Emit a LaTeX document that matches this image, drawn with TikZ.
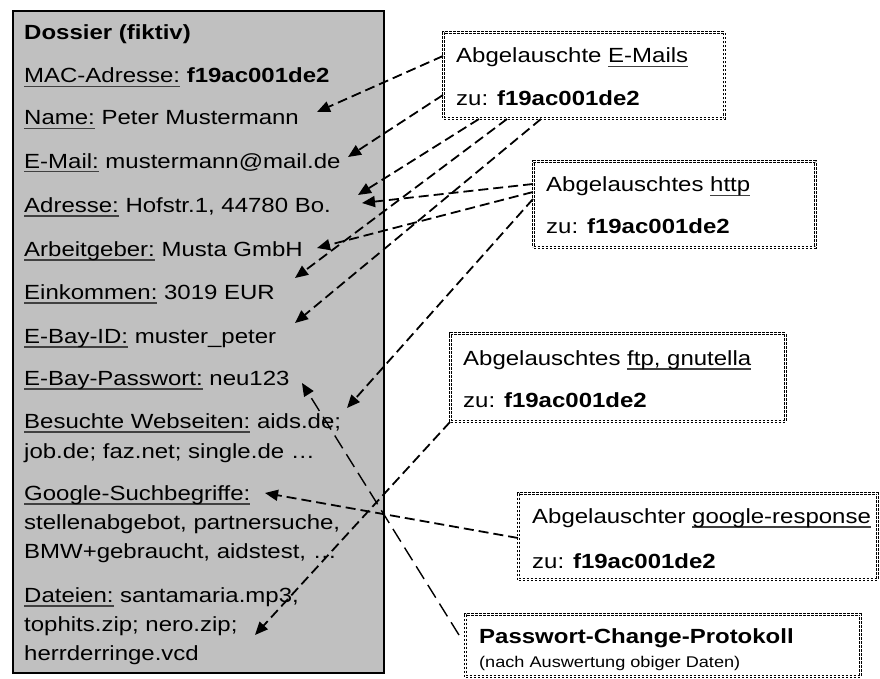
\documentclass[tikz,border=0pt]{standalone}
\usepackage{fontspec}
\setmainfont{Liberation Sans}[FakeStretch=1.17]
\usepackage{tikz}
\usetikzlibrary{arrows.meta}

\newsavebox{\ustrbox}
\newcommand{\unterstr}[1]{\sbox{\ustrbox}{#1}%
  \rlap{\textcolor{black!75}{\rule[-4.5pt]{\wd\ustrbox}{1.2pt}}}\usebox{\ustrbox}}

\begin{document}
\begin{tikzpicture}[x=1pt, y=-1pt,
      zeile/.style={anchor=base west, inner sep=0pt, font=\fontsize{20.5}{24}\selectfont},
      klein/.style={anchor=base west, inner sep=0pt, font=\fontsize{15.5}{18}\selectfont},
      akte/.style={draw, line width=2.4pt, fill={rgb,255:red,192;green,192;blue,192},
        anchor=north west, inner sep=0pt},
      lausch/.style={draw, line width=1pt, double, double distance=1.8pt,
        dash pattern=on 2.4pt off 1.6pt, anchor=north west, inner sep=0pt},
      pfeil/.style={line width=1.8pt, dash pattern=on 10pt off 5pt,
        -{Triangle[length=13pt,width=11pt]}},
      >=Stealth]
    \useasboundingbox (0,0) rectangle (880,679);

    % dossier
    \node[akte, minimum width=371pt, minimum height=662pt] (dossier) at (12,10) {};
    \node[zeile] (titel) at (24,40) {\textbf{Dossier (fiktiv)}};
    \node[zeile] (mac) at (24,83) {\unterstr{MAC-Adresse:} \textbf{f19ac001de2}};
    \node[zeile] (name) at (24,125) {\unterstr{Name:} Peter Mustermann};
    \node[zeile] (mail) at (24,168) {\unterstr{E-Mail:} mustermann@mail.de};
    \node[zeile] (adresse) at (24,212) {\unterstr{Adresse:} Hofstr.1, 44780 Bo.};
    \node[zeile] (arbeit) at (24,256) {\unterstr{Arbeitgeber:} Musta GmbH};
    \node[zeile] (einkommen) at (24,299) {\unterstr{Einkommen:} 3019 EUR};
    \node[zeile] (ebayid) at (24,343) {\unterstr{E-Bay-ID:} muster\_peter};
    \node[zeile] (ebaypw) at (24,385) {\unterstr{E-Bay-Passwort:} neu123};
    \node[zeile] (web) at (24,428) {\unterstr{Besuchte Webseiten:} aids.de;};
    \node[zeile] (web2) at (24,458) {job.de; faz.net; single.de …};
    \node[zeile] (google) at (24,500) {\unterstr{Google-Suchbegriffe:}};
    \node[zeile] (google2) at (24,529) {stellenabgebot, partnersuche,};
    \node[zeile] (google3) at (24,558) {BMW+gebraucht, aidstest, …};
    \node[zeile] (dateien) at (24,602) {\unterstr{Dateien:} santamaria.mp3,};
    \node[zeile] (dateien2) at (24,631) {tophits.zip; nero.zip;};
    \node[zeile] (dateien3) at (24,660) {herrderringe.vcd};

    % abgelauschte quellen
    \node[lausch, minimum width=281pt, minimum height=86pt] (emails) at (443,32) {};
    \node[zeile] (emails1) at (456,63) {Abgelauschte \unterstr{E-Mails}};
    \node[zeile] (emails2) at (456,106) {zu: \textbf{f19ac001de2}};

    \node[lausch, minimum width=282pt, minimum height=86pt] (http) at (533,161) {};
    \node[zeile] (http1) at (546,192) {Abgelauschtes \unterstr{http}};
    \node[zeile] (http2) at (546,233) {zu: \textbf{f19ac001de2}};

    \node[lausch, minimum width=335pt, minimum height=88pt] (ftp) at (450,333) {};
    \node[zeile] (ftp1) at (463,365) {Abgelauschtes \unterstr{ftp, gnutella}};
    \node[zeile] (ftp2) at (463,407) {zu: \textbf{f19ac001de2}};

    \node[lausch, minimum width=359pt, minimum height=86pt] (resp) at (518,493) {};
    \node[zeile] (resp1) at (532,523) {Abgelauschter \unterstr{google-response}};
    \node[zeile] (resp2) at (532,568) {zu: \textbf{f19ac001de2}};

    \node[lausch, minimum width=395pt, minimum height=62pt] (pwprot) at (465,614) {};
    \node[zeile] (pwprot1) at (479,643) {\textbf{Passwort-Change-Protokoll}};
    \node[klein] (pwprot2) at (479,667) {(nach Auswertung obiger Daten)};

    % pfeilspitzen
    \coordinate (zname) at (317,112);
    \coordinate (zmail) at (348,157);
    \coordinate (zadr1) at (358,195);
    \coordinate (zadr2) at (362,203);
    \coordinate (zarbeit) at (317,248);
    \coordinate (zeink) at (295,278);
    \coordinate (zebay) at (295,323);
    \coordinate (zweb) at (347,408);
    \coordinate (zpw) at (302,383);
    \coordinate (zgoogle) at (265,493);
    \coordinate (zdatei) at (255,635);

    \draw[pfeil] ([yshift=-24pt]emails.north west) -- (zname);
    \draw[pfeil] ([yshift=-63pt]emails.north west) -- (zmail);
    \draw[pfeil] ([xshift=36pt]emails.south west) -- (zadr1);
    \draw[pfeil] ([xshift=64pt]emails.south west) -- (zeink);
    \draw[pfeil] ([xshift=98pt]emails.south west) -- (zebay);
    \draw[pfeil] ([yshift=-23pt]http.north west) -- (zadr2);
    \draw[pfeil] ([yshift=-31pt]http.north west) -- (zarbeit);
    \draw[pfeil] ([yshift=-38pt]http.north west) -- (zweb);
    \draw[pfeil] (ftp.south west) -- (zdatei);
    \draw[pfeil] ([yshift=-45pt]resp.north west) -- (zgoogle);
    \draw[pfeil, line width=1.4pt, dash pattern=on 15pt off 7pt]
      ([xshift=-6pt,yshift=-21pt]pwprot.north west) -- (zpw);
  \end{tikzpicture}
\end{document}
